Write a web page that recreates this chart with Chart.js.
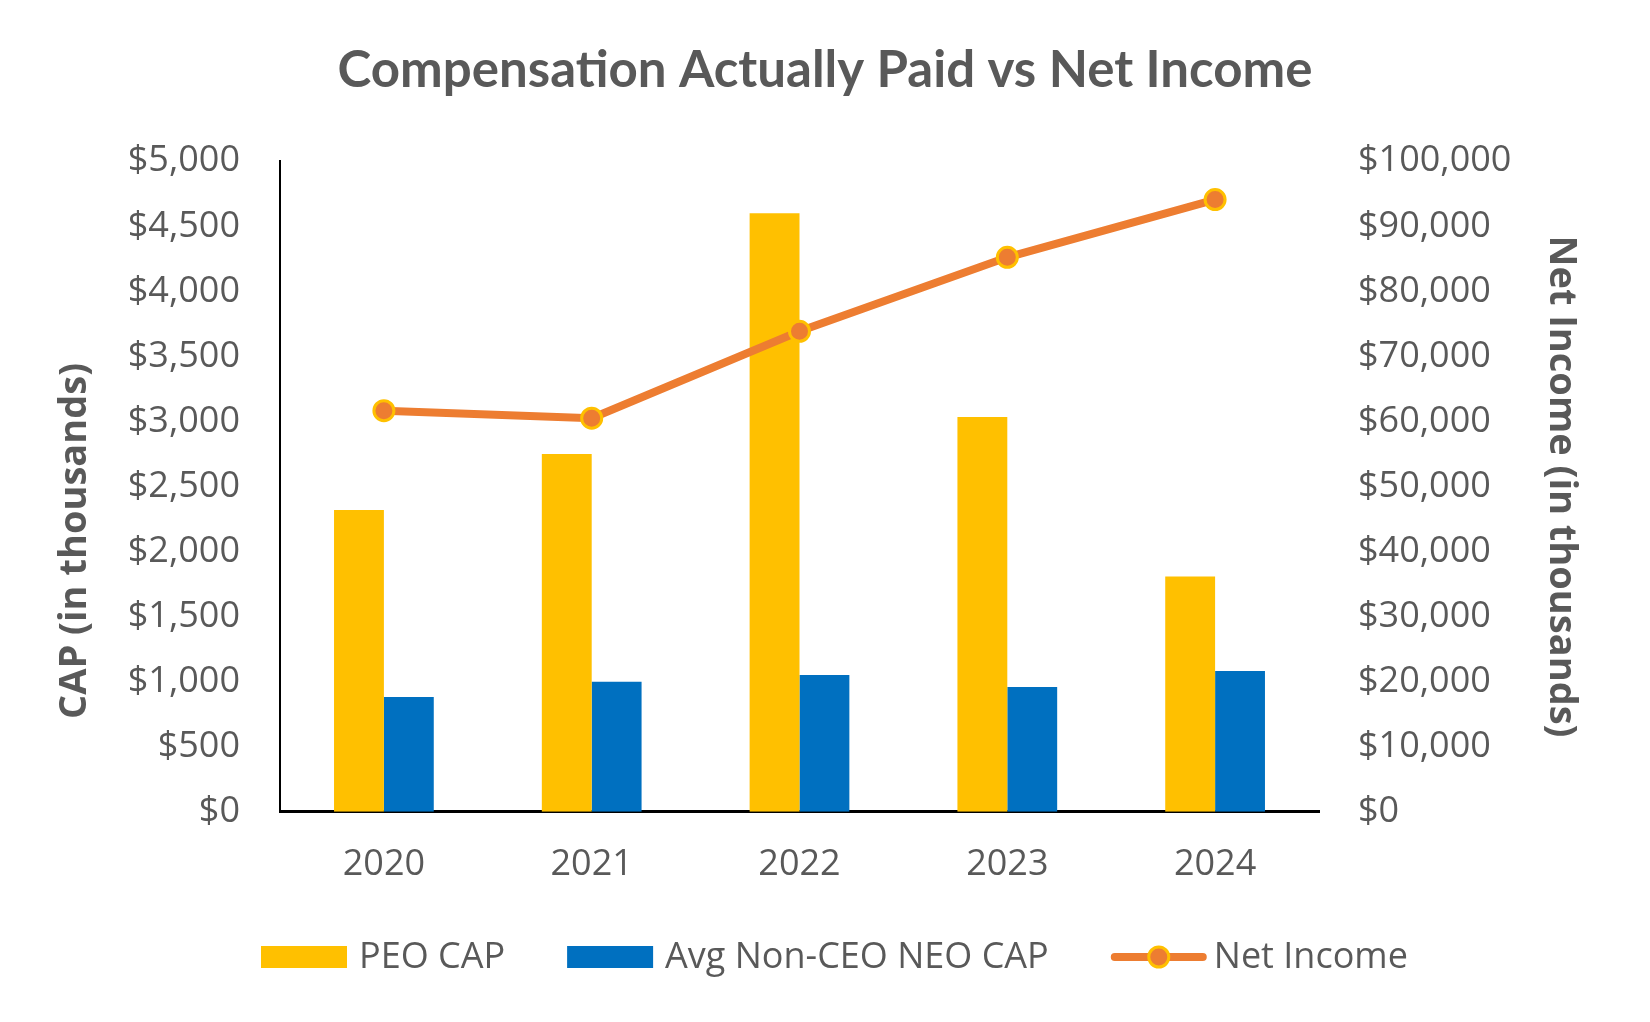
<!DOCTYPE html>
<html>
<head>
<meta charset="utf-8">
<title>Compensation Actually Paid vs Net Income</title>
<script src="https://cdn.jsdelivr.net/npm/chart.js@4.4.1/dist/chart.umd.min.js"></script>
<style>
  html, body { margin: 0; padding: 0; background: #fff; }
  #wrap { width: 1650px; height: 1022px; }
</style>
</head>
<body>
<div id="wrap"><canvas id="chart" width="1650" height="1022"></canvas></div>
<script>
// values, in thousands
const years = ['2020', '2021', '2022', '2023', '2024']
const peoCap = [2320, 2750, 4600, 3035, 1808]
const neoCap = [882, 1000, 1051, 959, 1082]
const netIncome = [61650, 60500, 73850, 85230, 94100]

const gray = '#595959'
const yellow = '#FFC000'
const blue = '#0070C0'
const orange = '#ED7D31'

Chart.defaults.font.family = "'Open Sans', 'Noto Sans', sans-serif"
Chart.defaults.color = gray

const money = v => '$' + Number(v).toLocaleString('en-US')

// the left title sits a bit below the middle of the axis in the original
const leftTitle = {
  id: 'leftTitle',
  afterDraw(chart) {
    const ctx = chart.ctx
    ctx.save()
    ctx.translate(75, 541)
    ctx.rotate(-Math.PI / 2)
    ctx.font = "bold 38px 'Open Sans', sans-serif"
    ctx.fillStyle = gray
    ctx.textAlign = 'center'
    ctx.textBaseline = 'middle'
    ctx.fillText('CAP (in thousands)', 0, 0)
    ctx.restore()
  }
}

// one row of legend keys under the years, laid out like the Excel original
const legendRow = {
  id: 'legendRow',
  afterDraw(chart) {
    const ctx = chart.ctx
    const y = 957
    let x = 261
    ctx.save()
    ctx.font = "36px 'Open Sans', sans-serif"
    ctx.textBaseline = 'middle'
    chart.data.datasets.forEach(ds => {
      if (ds.type === 'line') {
        ctx.strokeStyle = ds.borderColor
        ctx.lineWidth = 8
        ctx.lineCap = 'round'
        ctx.beginPath()
        ctx.moveTo(x + 4, y); ctx.lineTo(x + 92, y)
        ctx.stroke()
        ctx.beginPath()
        ctx.arc(x + 48, y, 10, 0, Math.PI * 2)
        ctx.fillStyle = ds.pointBackgroundColor
        ctx.fill()
        ctx.lineWidth = 3
        ctx.strokeStyle = ds.pointBorderColor
        ctx.stroke()
        x += 96 + 7
      } else {
        ctx.fillStyle = ds.backgroundColor
        ctx.fillRect(x, y - 11, 86, 22)
        x += 86 + 12
      }
      ctx.fillStyle = gray
      ctx.fillText(ds.label, x, y + 1)
      x += ctx.measureText(ds.label).width + 62
    })
    ctx.restore()
  }
}

new Chart(document.getElementById('chart'), {
  data: {
    labels: years,
    datasets: [
      {
        type: 'bar',
        label: 'PEO CAP',
        data: peoCap,
        backgroundColor: yellow,
        yAxisID: 'y',
        order: 2,
        categoryPercentage: 0.48,
        barPercentage: 1
      },
      {
        type: 'bar',
        label: 'Avg Non-CEO NEO CAP',
        data: neoCap,
        backgroundColor: blue,
        yAxisID: 'y',
        order: 3,
        categoryPercentage: 0.48,
        barPercentage: 1
      },
      {
        type: 'line',
        label: 'Net Income',
        data: netIncome,
        yAxisID: 'y1',
        order: 0,
        borderColor: orange,
        backgroundColor: orange,
        borderWidth: 8,
        tension: 0,
        pointRadius: 10,
        pointHoverRadius: 10,
        pointBackgroundColor: orange,
        pointBorderColor: yellow,
        pointBorderWidth: 3
      }
    ]
  },
  plugins: [leftTitle, legendRow],
  options: {
    responsive: false,
    animation: false,
    devicePixelRatio: 1,
    layout: { padding: { left: 0, right: 0, top: 0, bottom: 105 } },
    plugins: {
      title: {
        display: true,
        text: 'Compensation Actually Paid vs Net Income',
        color: gray,
        font: { family: "Lato, 'Open Sans', sans-serif", size: 51, weight: 'bold' },
        padding: { top: 40, bottom: 60 }
      },
      legend: { display: false },
      tooltip: { enabled: false }
    },
    scales: {
      x: {
        grid: { display: false, drawTicks: false },
        border: { display: true, color: '#000', width: 3 },
        ticks: { color: gray, font: { size: 36 }, padding: 31 }
      },
      y: {
        position: 'left',
        min: 0,
        max: 5000,
        grid: { display: false, drawTicks: false },
        border: { display: true, color: '#000', width: 2 },
        ticks: { stepSize: 500, color: gray, font: { size: 36 }, padding: 40, callback: money },
        afterFit: s => { s.width = 280 }
      },
      y1: {
        position: 'right',
        min: 0,
        max: 100000,
        grid: { display: false, drawTicks: false },
        border: { display: false },
        ticks: { stepSize: 10000, color: gray, font: { size: 36 }, padding: 39, callback: money },
        title: {
          display: true,
          text: 'Net Income (in thousands)',
          color: gray,
          font: { size: 38, weight: 'bold' },
          padding: { top: 66, bottom: 0 }
        },
        afterFit: s => { s.width = 331 }
      }
    }
  }
})
</script>
</body>
</html>
